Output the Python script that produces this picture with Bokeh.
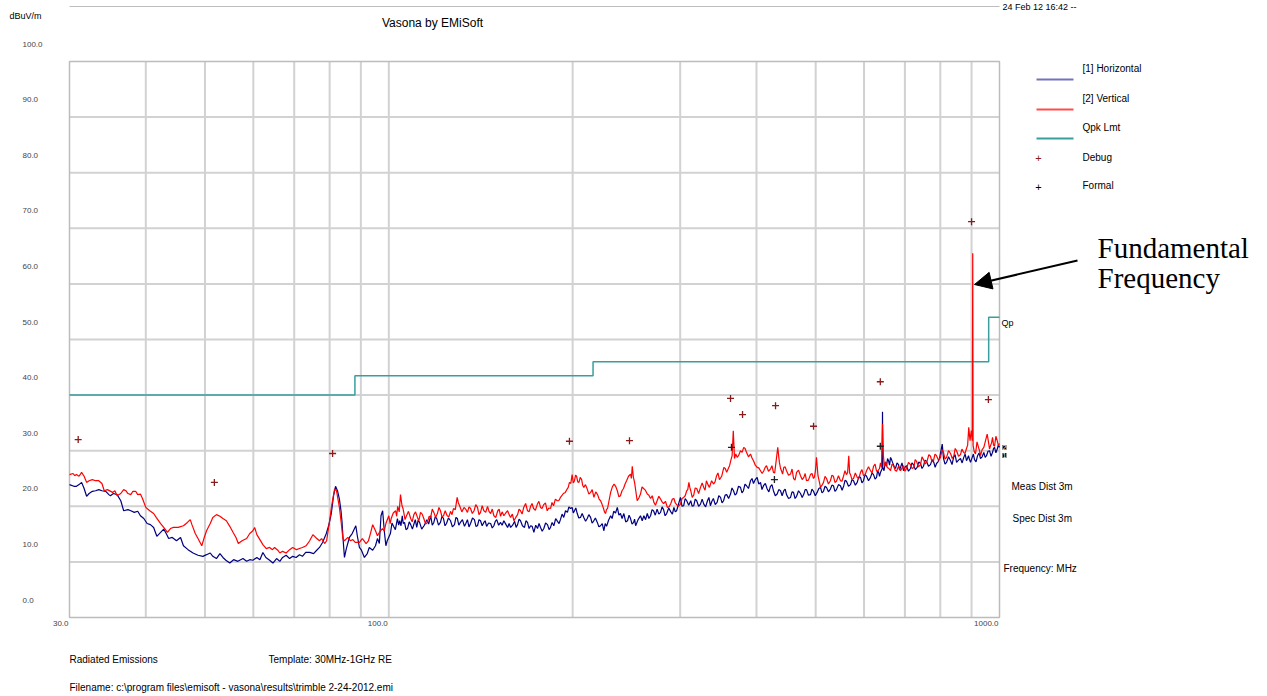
from bokeh.plotting import figure
from bokeh.models import Range1d, Label, Arrow, NormalHead
from bokeh.embed import file_html
from bokeh.resources import INLINE

# ---------------- data (MHz, dBuV/m) ----------------
# [1] Horizontal, 30-100 MHz
h_freq_lo = [30.0, 30.5, 30.8, 31.1, 31.4, 31.7, 32.0, 32.3, 32.7, 33.1,
             33.5, 33.9, 34.4, 34.8, 35.0, 35.4, 35.9, 36.4, 36.8, 37.4,
             37.8, 38.3, 38.8, 39.2, 39.7, 40.2, 40.7, 41.2, 41.7, 42.3,
             42.8, 43.2, 43.6, 44.2, 44.9, 45.6, 46.1, 46.9, 47.8, 48.7,
             49.6, 50.3, 51.0, 51.5, 52.2, 52.9, 53.5, 54.1, 54.9, 55.7,
             56.6, 57.7, 58.5, 59.2, 59.9, 60.8, 61.5, 62.2, 62.9, 63.8,
             64.6, 65.5, 66.3, 67.0, 67.9, 68.8, 69.6, 70.5, 71.4, 72.2,
             73.1, 74.2, 75.3, 76.2, 77.0, 77.9, 79.0, 79.7, 80.5, 81.2,
             81.8, 82.4, 83.0, 83.5, 83.8, 84.2, 84.6, 85.2, 85.9, 86.2,
             87.1, 88.3, 88.8, 89.5, 90.2, 91.2, 92.2, 92.9, 94.1, 95.1,
             95.8, 96.5, 97.1, 97.7, 98.3, 98.9, 99.4]
h_level_lo = [23.9, 23.6, 23.6, 23.9, 24.3, 23.2, 21.8, 22.3, 22.7, 22.8,
              23.0, 22.8, 22.7, 22.1, 21.9, 22.3, 22.1, 21.0, 19.2, 19.4,
              19.2, 18.9, 19.1, 18.3, 17.8, 16.9, 16.7, 16.2, 14.6, 15.3,
              15.9, 15.1, 14.2, 14.4, 13.8, 14.4, 12.9, 12.2, 11.6, 11.2,
              11.0, 11.3, 11.6, 11.0, 10.6, 11.5, 10.8, 10.3, 9.8, 10.4,
              10.1, 10.6, 10.1, 10.4, 10.3, 10.8, 10.4, 11.7, 10.8, 10.3,
              9.8, 10.6, 10.1, 10.8, 11.2, 10.6, 11.0, 10.8, 11.3, 11.0,
              11.7, 11.7, 11.5, 12.1, 12.6, 13.5, 15.1, 16.5, 18.7, 21.9,
              23.6, 22.8, 21.3, 19.2, 17.4, 13.8, 10.8, 12.4, 13.8, 14.4,
              15.1, 16.5, 14.7, 12.6, 12.1, 10.8, 11.5, 12.6, 12.1, 12.9,
              14.2, 13.3, 18.3, 19.2, 15.6, 12.9, 13.8]
# [1] Horizontal, 100-1000 MHz
h_freq_hi = [100.6, 101.2, 101.8, 102.5, 103.3, 103.8, 104.2, 104.7, 105.2, 105.6,
             106.1, 106.7, 107.3, 108.0, 108.6, 109.3, 110.0, 110.5, 111.1, 111.7,
             112.3, 113.2, 114.2, 114.8, 115.4, 116.2, 117.1, 117.8, 118.5, 119.1,
             119.8, 120.6, 121.5, 122.2, 122.9, 123.6, 124.3, 125.2, 126.2, 127.1,
             128.1, 128.8, 129.5, 130.2, 131.0, 132.0, 133.0, 133.7, 134.5, 135.3,
             136.1, 137.1, 138.1, 138.9, 139.7, 140.5, 141.3, 142.2, 143.1, 143.8,
             144.6, 145.7, 146.8, 147.7, 148.6, 149.4, 150.2, 151.3, 152.4, 153.3,
             154.3, 155.4, 156.5, 157.4, 158.3, 159.5, 160.7, 161.6, 162.5, 163.4,
             164.3, 165.5, 166.8, 167.7, 168.7, 169.7, 170.7, 171.7, 172.8, 174.0,
             175.2, 176.2, 177.2, 178.3, 179.4, 180.6, 181.9, 183.0, 184.0, 185.1,
             186.3, 187.6, 188.9, 190.0, 191.0, 192.2, 193.4, 194.7, 196.1, 197.2,
             198.4, 199.6, 200.5, 201.4, 202.4, 203.5, 204.7, 206.0, 207.3, 208.6,
             210.0, 211.3, 212.6, 214.0, 215.2, 216.4, 217.9, 219.5, 220.8, 222.2,
             223.6, 225.0, 226.1, 227.3, 229.0, 230.8, 232.1, 233.5, 235.1, 236.7,
             238.1, 239.5, 241.0, 242.6, 244.3, 246.0, 247.4, 248.8, 250.2, 251.7,
             252.6, 253.6, 256.0, 258.3, 260.0, 261.6, 263.3, 265.0, 266.6, 268.3,
             269.8, 271.3, 273.1, 275.0, 276.8, 278.6, 280.2, 281.8, 283.4, 285.1,
             287.3, 289.6, 291.3, 293.0, 294.5, 296.0, 298.1, 300.3, 302.1, 304.0,
             305.7, 307.5, 309.8, 312.2, 313.9, 315.7, 317.5, 319.3, 321.6, 323.9,
             325.9, 327.9, 330.2, 332.5, 334.3, 336.2, 338.1, 340.0, 342.4, 344.8,
             347.0, 349.3, 351.3, 353.3, 355.4, 357.5, 360.1, 362.7, 364.7, 366.8,
             368.9, 371.0, 373.8, 376.6, 378.7, 380.8, 383.0, 385.2, 388.1, 391.1,
             393.3, 395.5, 398.2, 401.0, 403.5, 406.1, 408.4, 410.7, 413.6, 416.5,
             419.1, 421.7, 424.0, 426.4, 429.4, 432.4, 435.1, 437.9, 440.6, 443.4,
             445.7, 448.0, 451.4, 454.8, 457.4, 460.0, 462.6, 465.3, 468.7, 472.2,
             475.2, 478.2, 480.6, 483.0, 486.6, 490.3, 493.1, 495.9, 499.3, 502.8,
             506.0, 509.2, 512.1, 515.0, 518.0, 520.9, 524.7, 528.6, 531.6, 534.7,
             537.7, 540.8, 544.9, 549.0, 552.4, 555.9, 558.7, 561.6, 565.9, 570.2,
             573.4, 576.7, 580.7, 584.8, 588.4, 592.1, 595.4, 598.8, 602.2, 605.7,
             610.3, 614.9, 618.4, 621.9, 625.5, 629.1, 631.5, 633.8, 636.1, 638.4,
             642.6, 643.3, 644.0, 647.0, 650.1, 653.2, 655.6, 658.1, 660.6, 663.1,
             665.6, 668.1, 671.9, 675.7, 679.5, 683.4, 686.0, 688.5, 692.4, 696.3,
             700.2, 704.2, 709.5, 714.9, 718.9, 723.0, 728.0, 733.1, 737.7, 742.4,
             746.6, 750.8, 755.1, 759.4, 765.1, 770.9, 775.7, 780.6, 784.6, 788.6,
             793.1, 797.6, 805.8, 809.7, 814.3, 819.0, 825.2, 831.5, 836.2, 841.0,
             845.8, 850.6, 856.9, 863.2, 868.6, 874.0, 878.5, 883.0, 886.3, 889.7,
             893.1, 896.5, 899.4, 902.3, 906.2, 910.1, 915.3, 920.6, 925.7, 930.9,
             936.7, 942.6, 947.4, 952.2, 957.6, 963.1, 968.6, 974.1, 977.8, 981.5,
             986.5, 991.5, 995.7, 1000.0]
h_level_hi = [15.1, 17.0, 16.4, 15.8, 17.8, 16.6, 17.4, 16.5, 18.3, 16.9,
              17.1, 15.8, 16.0, 17.2, 16.7, 15.9, 16.9, 17.6, 16.2, 17.5,
              17.1, 15.9, 16.5, 17.0, 17.6, 16.8, 18.3, 16.6, 17.1, 18.1,
              17.8, 16.6, 17.1, 18.2, 17.8, 16.5, 16.9, 17.9, 17.4, 16.3,
              16.7, 18.0, 17.8, 16.6, 17.1, 17.6, 16.4, 16.9, 17.6, 16.3,
              16.9, 17.9, 17.6, 16.4, 16.5, 17.6, 17.4, 16.5, 17.1, 17.4,
              16.4, 17.0, 16.9, 16.1, 16.5, 17.3, 17.6, 16.6, 17.1, 16.6,
              17.4, 16.8, 16.2, 16.9, 16.2, 16.6, 17.3, 16.2, 16.7, 17.7,
              17.4, 16.5, 16.2, 17.4, 17.1, 16.0, 16.5, 16.4, 15.3, 16.6,
              16.0, 16.9, 16.2, 15.5, 16.0, 17.0, 16.7, 15.8, 16.2, 17.1,
              16.5, 17.8, 17.3, 16.9, 17.6, 18.6, 18.0, 19.2, 18.9, 19.9,
              19.6, 19.8, 18.8, 19.2, 19.7, 18.7, 17.9, 18.0, 18.7, 18.0,
              17.3, 17.8, 18.5, 18.0, 17.0, 17.3, 17.9, 17.1, 16.3, 16.5,
              16.9, 15.6, 16.9, 16.4, 17.5, 18.3, 17.8, 19.1, 18.8, 19.8,
              18.4, 18.7, 17.8, 18.7, 17.2, 17.4, 18.4, 17.8, 16.8, 17.1,
              17.7, 16.5, 17.6, 18.3, 17.4, 18.3, 17.6, 18.7, 17.8, 18.3,
              19.4, 19.2, 18.4, 19.5, 18.6, 18.9, 19.9, 19.4, 18.3, 18.7,
              19.7, 19.0, 18.6, 19.8, 19.0, 19.2, 20.4, 21.6, 20.0, 20.1,
              21.4, 21.0, 20.2, 21.0, 20.0, 20.1, 21.3, 21.0, 20.0, 20.4,
              21.3, 20.4, 19.9, 21.0, 21.6, 20.1, 20.9, 21.4, 20.3, 20.7,
              21.9, 21.6, 20.6, 21.0, 22.0, 22.1, 21.4, 22.2, 23.3, 22.8,
              22.0, 22.3, 23.6, 23.4, 22.4, 22.8, 24.0, 23.7, 23.2, 24.6,
              25.0, 24.1, 24.8, 25.2, 24.0, 24.3, 23.0, 23.7, 24.1, 23.1,
              22.6, 23.6, 23.9, 22.8, 21.9, 22.2, 23.0, 22.8, 21.9, 22.8,
              23.1, 22.1, 21.4, 21.6, 22.6, 22.5, 21.4, 21.8, 22.8, 22.3,
              21.6, 22.2, 23.0, 23.0, 22.0, 22.1, 23.1, 22.7, 21.9, 22.5,
              23.2, 23.4, 22.4, 22.7, 23.6, 23.4, 22.6, 23.1, 23.8, 23.7,
              22.7, 23.0, 23.9, 23.7, 22.9, 23.7, 24.7, 24.5, 23.6, 23.9,
              24.8, 24.6, 23.8, 24.3, 25.3, 25.2, 24.2, 24.6, 25.7, 25.4,
              24.6, 25.2, 26.0, 25.7, 24.9, 25.2, 26.4, 26.1, 25.4, 26.1,
              26.8, 37.0, 27.0, 26.4, 28.0, 27.2, 28.6, 28.2, 27.4, 28.8,
              28.4, 27.9, 27.2, 26.8, 27.8, 27.5, 26.5, 27.0, 27.8, 26.4,
              27.0, 27.3, 26.3, 26.8, 27.8, 27.5, 26.6, 27.0, 28.0, 27.7,
              26.8, 27.2, 28.3, 28.1, 27.2, 27.5, 28.4, 27.9, 27.0, 27.7,
              28.0, 28.6, 31.2, 28.6, 27.6, 27.9, 28.9, 28.2, 27.5, 28.8,
              29.3, 27.9, 28.3, 28.6, 27.8, 28.8, 29.4, 28.2, 28.6, 29.1,
              28.4, 27.9, 28.4, 28.8, 29.4, 28.4, 28.0, 29.1, 29.6, 28.6,
              28.9, 29.7, 28.8, 29.1, 29.9, 30.0, 29.0, 29.7, 30.4, 30.6,
              29.6, 30.3, 31.0, 30.6]

# [2] Vertical, 30-100 MHz
v_freq_lo = [30.0, 30.4, 30.6, 30.8, 31.1, 31.4, 31.7, 32.0, 32.3, 32.7,
             33.1, 33.5, 33.9, 34.2, 34.6, 35.3, 35.6, 35.9, 36.4, 36.8,
             37.1, 37.4, 37.8, 38.1, 38.5, 38.8, 39.2, 39.5, 40.0, 40.6,
             41.2, 41.6, 42.3, 42.8, 43.4, 43.9, 44.4, 45.2, 46.1, 46.8,
             47.3, 47.6, 48.2, 48.7, 49.4, 49.8, 50.3, 51.0, 51.5, 52.2,
             52.9, 53.5, 54.2, 54.9, 55.6, 56.2, 56.7, 57.5, 58.5, 59.2,
             59.9, 60.3, 60.8, 61.5, 62.2, 63.0, 63.8, 64.5, 65.0, 65.8,
             66.3, 67.0, 67.9, 68.8, 69.6, 70.6, 71.4, 72.2, 73.2, 74.2,
             75.1, 75.9, 77.0, 77.6, 78.5, 79.1, 80.0, 80.6, 81.5, 82.1,
             83.0, 83.5, 84.1, 84.6, 85.7, 86.5, 87.3, 88.1, 89.5, 90.5,
             91.8, 92.6, 93.3, 94.1, 95.1, 95.8, 96.5, 97.6, 98.3, 98.9]
v_level_lo = [25.7, 25.9, 25.5, 25.7, 25.4, 26.1, 25.4, 24.3, 24.6, 24.8,
              24.6, 24.6, 24.1, 22.8, 23.0, 22.5, 22.8, 21.9, 22.3, 23.0,
              22.8, 22.3, 22.1, 22.7, 22.7, 22.1, 22.2, 21.4, 19.8, 19.2,
              18.7, 18.0, 16.9, 16.2, 15.3, 16.0, 16.2, 16.2, 16.5, 17.1,
              17.6, 16.7, 15.1, 14.2, 12.9, 14.2, 15.6, 16.9, 18.0, 18.5,
              18.2, 17.8, 17.4, 16.4, 15.3, 14.4, 13.3, 13.8, 14.2, 15.1,
              15.6, 16.2, 14.9, 14.0, 13.1, 12.4, 12.6, 12.2, 12.6, 12.1,
              11.6, 11.9, 11.6, 12.2, 12.6, 12.2, 12.4, 12.6, 12.9, 13.8,
              14.9, 14.4, 13.8, 14.2, 13.3, 13.8, 17.4, 20.1, 23.1, 22.8,
              19.8, 17.4, 14.2, 13.8, 14.4, 13.8, 14.0, 13.5, 13.5, 14.2,
              13.3, 13.8, 15.1, 16.7, 15.6, 14.7, 15.3, 16.0, 15.6, 16.9]
# [2] Vertical, 100-1000 MHz
v_freq_hi = [100.0, 100.5, 100.9, 101.7, 102.6, 103.0, 103.4, 104.0, 104.5, 105.1,
             105.5, 105.8, 106.3, 106.9, 107.7, 108.6, 109.2, 109.9, 110.6, 111.4,
             112.0, 112.7, 113.4, 114.1, 114.9, 115.7, 116.4, 117.1, 117.8, 118.5,
             119.3, 120.1, 120.8, 121.5, 122.2, 122.9, 123.7, 124.6, 125.4, 126.2,
             126.9, 127.6, 128.5, 129.4, 130.0, 130.6, 131.7, 132.8, 133.6, 134.5,
             135.3, 136.1, 137.0, 137.9, 138.8, 139.7, 140.5, 141.3, 142.2, 143.1,
             144.1, 145.1, 145.9, 146.8, 147.7, 148.6, 149.7, 150.8, 151.6, 152.4,
             153.3, 154.3, 155.4, 156.5, 157.4, 158.3, 159.3, 160.3, 161.4, 162.5,
             163.4, 164.3, 165.3, 166.3, 167.5, 168.7, 169.7, 170.7, 171.6, 172.6,
             173.8, 175.1, 176.1, 177.2, 178.2, 179.3, 180.5, 181.7, 182.8, 184.0,
             185.0, 186.1, 187.4, 188.7, 189.8, 191.0, 192.0, 193.1, 194.5, 195.9,
             196.7, 197.6, 198.6, 199.6, 200.5, 201.4, 202.2, 203.0, 203.9, 204.8,
             205.8, 206.9, 207.7, 208.6, 209.9, 211.3, 212.6, 214.0, 215.3, 216.7,
             218.2, 219.7, 221.0, 222.2, 223.4, 224.7, 225.5, 226.4, 227.2, 228.1,
             229.4, 230.8, 232.3, 233.8, 235.2, 236.7, 238.1, 239.5, 240.9, 242.3,
             243.7, 245.1, 246.9, 248.8, 249.6, 250.4, 251.5, 252.6, 253.8, 255.1,
             256.7, 258.3, 259.8, 261.3, 263.1, 265.0, 266.6, 268.3, 270.0, 271.7,
             273.3, 275.0, 276.8, 278.6, 280.2, 281.8, 283.8, 285.8, 287.7, 289.6,
             291.3, 293.0, 294.5, 296.0, 298.1, 300.3, 302.1, 304.0, 305.7, 307.5,
             308.7, 310.0, 311.1, 312.2, 313.9, 315.7, 317.5, 319.3, 321.6, 323.9,
             325.9, 327.9, 329.5, 331.2, 333.1, 335.0, 337.7, 340.4, 342.1, 343.9,
             345.9, 347.9, 350.8, 353.7, 355.6, 357.5, 359.4, 361.4, 363.2, 364.9,
             366.5, 368.2, 370.0, 371.9, 374.2, 376.6, 378.9, 381.2, 383.2, 385.2,
             388.1, 391.1, 393.3, 395.5, 398.2, 401.0, 403.5, 406.1, 408.6, 411.2,
             413.3, 415.4, 418.5, 421.7, 424.0, 426.4, 428.4, 430.5, 433.4, 436.1,
             437.8, 439.5, 441.4, 443.4, 445.7, 448.0, 451.4, 454.8, 457.4, 460.0,
             462.6, 465.3, 468.7, 472.2, 475.2, 478.2, 480.6, 483.0, 486.6, 490.3,
             493.1, 495.9, 497.8, 499.6, 501.5, 504.4, 506.8, 509.2, 512.1, 515.0,
             518.0, 520.9, 524.7, 528.6, 531.6, 534.7, 537.7, 540.8, 544.9, 549.0,
             552.1, 555.3, 558.4, 561.6, 564.0, 566.5, 568.3, 570.2, 573.4, 576.7,
             580.7, 584.8, 588.4, 592.1, 595.4, 598.8, 602.2, 605.7, 610.3, 614.9,
             618.4, 621.9, 625.5, 629.1, 632.5, 636.0, 638.4, 640.8, 643.3, 645.5,
             648.0, 651.4, 654.8, 659.0, 663.1, 666.8, 670.6, 674.4, 678.3, 683.4,
             688.5, 692.4, 696.3, 700.2, 704.2, 709.5, 714.9, 719.4, 724.0, 727.6,
             731.3, 736.8, 742.4, 746.6, 750.8, 756.1, 761.4, 766.1, 770.9, 775.3,
             779.7, 784.1, 788.6, 794.6, 800.6, 805.1, 809.7, 814.3, 819.0, 825.2,
             831.5, 836.7, 842.0, 846.3, 850.6, 856.9, 863.2, 868.0, 872.9, 878.0,
             883.0, 886.8, 890.6, 894.8, 899.2, 902.6, 904.0, 905.3, 909.4, 913.5,
             918.7, 923.9, 927.4, 930.9, 936.7, 942.6, 948.7, 954.6, 959.5, 963.1,
             966.7, 970.4, 974.1, 977.8, 981.5, 986.5, 991.5, 995.7, 1000.0]
v_level_hi = [18.3, 16.9, 17.8, 18.8, 19.2, 18.2, 20.0, 19.0, 22.1, 20.1,
              19.6, 18.9, 17.6, 18.3, 19.1, 17.8, 17.2, 18.5, 19.0, 18.0,
              17.4, 18.9, 18.6, 17.8, 16.8, 17.1, 18.2, 18.0, 19.5, 18.9,
              18.0, 18.7, 19.8, 19.2, 18.1, 18.3, 19.2, 18.3, 18.1, 19.1,
              18.5, 19.6, 19.4, 21.6, 20.6, 20.1, 19.0, 19.8, 19.5, 18.9,
              19.9, 19.6, 18.7, 19.2, 20.3, 19.8, 18.5, 18.9, 20.1, 19.2,
              18.9, 20.0, 19.1, 18.7, 19.5, 18.3, 18.0, 19.2, 19.5, 18.2,
              19.0, 18.3, 18.8, 19.2, 18.5, 18.0, 18.6, 17.4, 18.0, 18.5,
              19.5, 19.2, 18.6, 19.8, 20.5, 19.2, 19.0, 20.0, 20.5, 19.6,
              19.3, 20.4, 20.9, 19.8, 19.6, 20.3, 20.6, 19.2, 19.7, 19.6,
              20.7, 20.1, 21.3, 21.0, 21.0, 21.6, 21.9, 22.3, 22.5, 23.1,
              23.4, 24.3, 24.1, 25.7, 24.2, 24.6, 25.6, 25.4, 24.4, 24.3,
              25.2, 24.8, 23.8, 23.4, 23.9, 23.1, 22.2, 22.5, 23.0, 21.6,
              22.6, 22.1, 21.3, 21.0, 20.4, 19.6, 19.0, 18.7, 19.4, 19.6,
              21.0, 22.5, 23.5, 24.0, 23.6, 22.8, 21.7, 21.9, 22.8, 23.2,
              24.0, 24.6, 25.4, 25.8, 25.0, 27.2, 25.2, 24.3, 22.7, 21.0,
              21.5, 22.2, 23.5, 23.2, 22.9, 22.2, 22.0, 21.4, 21.9, 20.7,
              20.2, 21.0, 21.8, 21.3, 20.8, 20.5, 20.9, 19.8, 19.9, 20.5,
              21.3, 21.4, 20.6, 20.3, 20.0, 20.4, 21.4, 21.6, 21.9, 22.8,
              23.0, 24.3, 23.4, 22.8, 21.6, 22.0, 23.3, 23.2, 22.3, 23.4,
              24.2, 23.4, 22.9, 24.6, 23.9, 23.4, 24.6, 24.0, 24.4, 25.4,
              26.0, 24.8, 25.4, 27.0, 26.8, 26.1, 26.7, 27.3, 28.3, 29.1,
              33.6, 28.6, 29.4, 28.8, 29.2, 30.0, 29.7, 30.6, 30.4, 29.7,
              28.9, 29.4, 28.7, 28.2, 27.4, 27.0, 26.9, 26.4, 25.9, 26.4,
              27.0, 27.3, 26.3, 26.7, 27.3, 26.1, 26.0, 27.9, 30.6, 27.9,
              26.9, 26.4, 25.8, 27.0, 27.1, 26.4, 25.6, 25.8, 26.7, 25.0,
              24.7, 26.1, 26.5, 25.5, 24.8, 25.2, 25.9, 24.6, 24.7, 25.7,
              25.9, 25.0, 25.3, 26.4, 28.8, 25.5, 24.5, 23.4, 23.8, 24.3,
              25.4, 25.0, 24.0, 24.6, 25.6, 25.4, 24.3, 24.5, 25.5, 24.6,
              24.5, 25.4, 26.4, 25.7, 26.1, 29.1, 26.0, 25.7, 24.8, 25.0,
              26.0, 25.2, 25.0, 26.1, 26.6, 25.5, 25.6, 26.4, 27.1, 26.4,
              26.0, 27.2, 27.6, 26.3, 26.4, 26.8, 27.8, 27.0, 34.8, 29.1,
              27.2, 28.0, 27.0, 26.8, 26.4, 27.6, 27.3, 26.5, 26.3, 27.2,
              26.4, 26.9, 27.3, 26.3, 26.8, 27.9, 27.5, 26.8, 27.0, 28.4,
              28.1, 27.1, 27.5, 28.9, 28.4, 27.6, 28.2, 29.3, 29.0, 28.0,
              28.2, 29.4, 29.1, 28.3, 28.8, 30.1, 29.7, 28.5, 28.8, 30.0,
              29.5, 28.6, 29.1, 30.4, 30.0, 29.0, 29.3, 30.3, 29.7, 29.5,
              30.4, 31.0, 34.2, 31.8, 33.6, 31.8, 65.5, 30.9, 29.8, 29.4,
              31.6, 30.6, 30.0, 29.1, 30.2, 30.6, 31.8, 33.0, 31.5, 30.3,
              30.9, 31.4, 32.4, 31.0, 30.8, 32.6, 31.8, 30.9, 31.3]

# Qpk limit (step function)
lim_freq = [30, 88, 88, 216, 216, 960, 960, 1000]
lim_level = [40.0, 40.0, 43.5, 43.5, 46.0, 46.0, 54.0, 54.0]

debug_freq = [31.0, 51.8, 80.9, 197.6, 247.8, 362.7, 379.5, 429.8, 496.0, 638.0, 900.0, 959.0]
debug_level = [32.0, 24.3, 29.5, 31.7, 31.8, 39.4, 36.5, 38.1, 34.4, 42.4, 71.2, 39.2]
formal_freq = [364.0, 428.0, 638.0]
formal_level = [30.6, 24.8, 30.8]

x_min, x_max = 30.0, 1000.0
y_min, y_max = 0.0, 100.0
x_tick_values = [30, 100, 1000]
y_tick_values = [0, 10, 20, 30, 40, 50, 60, 70, 80, 90, 100]
x_grid_values = [40, 50, 60, 70, 80, 90, 100, 200, 300, 400, 500, 600, 700, 800, 900]
y_grid_values = [10, 20, 30, 40, 50, 60, 70, 80, 90]


def paired(a, b):
    n = min(len(a), len(b))
    return list(a[:n]), list(b[:n])


h_f, h_l = paired(h_freq_lo + h_freq_hi, h_level_lo + h_level_hi)
v_f, v_l = paired(v_freq_lo + v_freq_hi, v_level_lo + v_level_hi)

# ---------------- layout (page pixels) ----------------
# The canvas is the whole page; data ranges are extended so that the
# 30-1000 MHz / 0-100 dB plot area sits at these page pixels.
FL, FR, FT, FB = 69, 999, 61, 617
W, H = 1266, 695


def fx(px):
    return x_min * (x_max / x_min) ** ((px - FL) / (FR - FL))


def fy(py):
    return y_min + (y_max - y_min) * (FB - py) / (FB - FT)


FONT = "Liberation Sans"

p = figure(width=W, height=H, x_axis_type="log",
           x_range=Range1d(fx(0), fx(W)), y_range=Range1d(fy(H), fy(0)),
           x_axis_location=None, y_axis_location=None,
           toolbar_location=None, output_backend="svg",
           min_border=0)
p.title.visible = False
p.background_fill_color = "white"
p.border_fill_color = "white"
p.outline_line_color = None
p.grid.visible = False

# grid and plot frame (data coordinates)
p.segment(x0=x_grid_values, y0=[y_min] * len(x_grid_values),
          x1=x_grid_values, y1=[y_max] * len(x_grid_values),
          line_color="#d2d2d2", line_width=2)
p.segment(x0=[x_min] * len(y_grid_values), y0=y_grid_values,
          x1=[x_max] * len(y_grid_values), y1=y_grid_values,
          line_color="#d2d2d2", line_width=2)
p.quad(left=[x_min], right=[x_max], bottom=[y_min], top=[y_max],
       fill_color=None, line_color="#bcbcbc", line_width=1.5)

# limit line
p.line(lim_freq, lim_level, line_color="#3a9e9e", line_width=1.5)
# traces
p.line(h_f, h_l, line_color="#000080", line_width=1.2)
p.line(v_f, v_l, line_color="#ff0000", line_width=1.2)
# markers
p.scatter(debug_freq, debug_level, marker="cross", size=7, line_color="#8b1a1a", line_width=1.3)
p.scatter(formal_freq, formal_level, marker="cross", size=7, line_color="#222222", line_width=1.3)


def lab(px, py, text, size="10px", align="left", color="black", font=FONT, baseline="middle"):
    p.add_layout(Label(x=fx(px), y=fy(py), text=text, text_font=font, text_font_size=size,
                       text_align=align, text_baseline=baseline, text_color=color))


def seg(px0, py0, px1, py1, color, width=1.5, alpha=1.0):
    p.segment(x0=[fx(px0)], y0=[fy(py0)], x1=[fx(px1)], y1=[fy(py1)],
              line_color=color, line_width=width, line_alpha=alpha)


# y tick labels (the source prints them above their grid lines)
for v in y_tick_values:
    p.add_layout(Label(x=fx(22), y=v + 17.5 * (y_max - y_min) / (FB - FT), text=f"{v:.1f}",
                       text_font=FONT, text_font_size="8px", text_align="left",
                       text_baseline="middle"))
# x tick labels
for t in x_tick_values:
    p.add_layout(Label(x=t, y=fy(623), text=f"{t:.1f}", text_font=FONT, text_font_size="8px",
                       text_align="right", text_baseline="middle", x_offset=-1))

# header
seg(69, 6, 999, 6, "#bdbdbd", 1.2)
lab(1002, 6, "24 Feb 12 16:42 --", size="9px")
lab(9, 15, "dBuV/m", size="9px")
lab(432, 22, "Vasona by EMiSoft", size="12px", align="center")

# legend
seg(1036, 79, 1073, 79, "#000080", 2, 0.55)
lab(1082, 68, "[1]  Horizontal")
seg(1036, 109, 1073, 109, "#ff0000", 2, 0.7)
lab(1082, 98, "[2]  Vertical")
seg(1036, 138, 1073, 138, "#3a9e9e", 2)
lab(1082, 127, "Qpk  Lmt")
lab(1038, 157, "+", size="11px", align="center", color="#8b1a1a")
lab(1082, 157, "Debug")
lab(1038, 186, "+", size="11px", align="center", color="#000000")
lab(1082, 185, "Formal")

# right-side notes
lab(1001, 322, "Qp", size="9px")
p.add_layout(Label(x=fx(1002), y=fy(447), text="2", text_font=FONT, text_font_size="7px",
                   text_color="white", background_fill_color="black", text_baseline="middle"))
p.add_layout(Label(x=fx(1002), y=fy(455), text="1", text_font=FONT, text_font_size="7px",
                   text_color="white", background_fill_color="black", text_baseline="middle"))
lab(1011, 486, "Meas Dist 3m")
lab(1012, 518, "Spec Dist 3m")
lab(1003, 568, "Frequency: MHz")

# footer
lab(69, 659, "Radiated Emissions")
lab(268, 659, "Template: 30MHz-1GHz RE")
lab(69, 687, "Filename: c:\\program files\\emisoft - vasona\\results\\trimble 2-24-2012.emi")

# annotation
lab(1097, 247, "Fundamental", size="29px", font="Liberation Serif")
lab(1097, 277, "Frequency", size="29px", font="Liberation Serif")
p.add_layout(Arrow(x_start=fx(1077), y_start=fy(260), x_end=fx(974), y_end=fy(284),
                   line_color="black", line_width=2,
                   end=NormalHead(size=17, fill_color="black", line_color="black")))

open("out.html", "w").write(file_html(p, INLINE))
